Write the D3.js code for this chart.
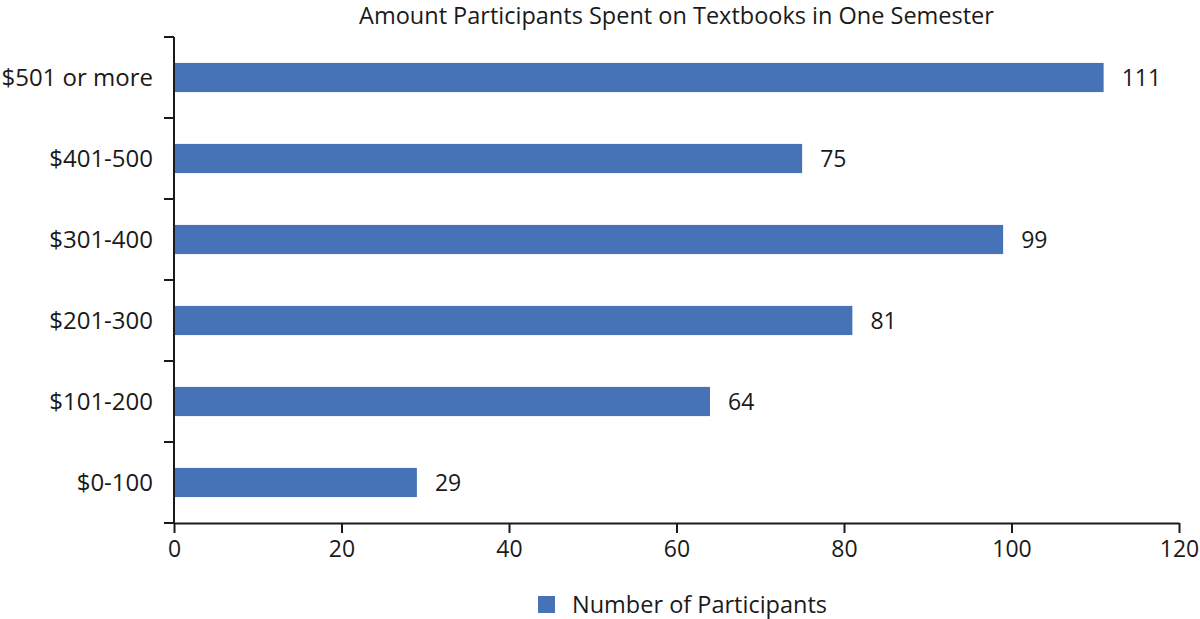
<!DOCTYPE html>
<html>
<head>
<meta charset="utf-8">
<script src="https://cdn.jsdelivr.net/npm/d3@7"></script>
<style>
  body { margin: 0; background: #fff; }
  svg { display: block; font-family: "Open Sans", sans-serif; }
</style>
</head>
<body>
<svg id="chart" width="1200" height="619"></svg>
<script>
// data (top to bottom)
const categories = ["$501 or more", "$401-500", "$301-400", "$201-300", "$101-200", "$0-100"];
const participants = [111, 75, 99, 81, 64, 29];
const xTicks = [0, 20, 40, 60, 80, 100, 120];
const title = "Amount Participants Spent on Textbooks in One Semester";
const seriesName = "Number of Participants";

const barColor = "#4672b8";
const ink = "#1a1a1a";

const svg = d3.select("#chart");
const plotLeft = 174, plotRight = 1179, plotTop = 37, plotBottom = 523;

const x = d3.scaleLinear().domain([0, 120]).range([plotLeft, plotRight]);
const y = d3.scaleBand().domain(categories).range([plotTop, plotBottom]).padding(0);
const barH = y.bandwidth() * 0.36;

// title
svg.append("text")
  .attr("x", (plotLeft + plotRight) / 2)
  .attr("y", 24)
  .attr("text-anchor", "middle")
  .attr("font-size", 23.5)
  .attr("fill", ink)
  .text(title);

// bars
svg.append("g")
  .selectAll("rect")
  .data(categories)
  .join("rect")
  .attr("x", x(0))
  .attr("y", d => y(d) + (y.bandwidth() - barH) / 2)
  .attr("width", (d, i) => x(participants[i]) - x(0))
  .attr("height", barH)
  .attr("fill", barColor);

// value labels
svg.append("g")
  .selectAll("text")
  .data(categories)
  .join("text")
  .attr("x", (d, i) => x(participants[i]) + 18)
  .attr("y", d => y(d) + y.bandwidth() / 2)
  .attr("dy", "0.35em")
  .attr("font-size", 23)
  .attr("fill", ink)
  .text((d, i) => participants[i]);

// x axis
const xAxis = svg.append("g")
  .attr("transform", `translate(0,${plotBottom})`)
  .call(d3.axisBottom(x).tickValues(xTicks).tickSize(10).tickPadding(8).tickSizeOuter(0));
xAxis.select(".domain").attr("stroke", ink).attr("stroke-width", 2);
xAxis.selectAll(".tick line").attr("stroke", ink).attr("stroke-width", 2);
xAxis.selectAll(".tick text").attr("font-size", 23).attr("fill", ink)
  .attr("font-family", "Open Sans, sans-serif");

// y axis: ticks on category boundaries, labels centred in each band
const bounds = categories.map(d => y(d)).concat([plotBottom]);
const yAxis = svg.append("g");
yAxis.append("line")
  .attr("x1", plotLeft).attr("x2", plotLeft)
  .attr("y1", plotTop).attr("y2", plotBottom)
  .attr("stroke", ink).attr("stroke-width", 2);
yAxis.selectAll("line.tk")
  .data(bounds)
  .join("line")
  .attr("class", "tk")
  .attr("x1", plotLeft - 10).attr("x2", plotLeft)
  .attr("y1", d => d).attr("y2", d => d)
  .attr("stroke", ink).attr("stroke-width", 2);
yAxis.selectAll("text")
  .data(categories)
  .join("text")
  .attr("x", plotLeft - 21)
  .attr("y", d => y(d) + y.bandwidth() / 2)
  .attr("dy", "0.35em")
  .attr("text-anchor", "end")
  .attr("font-size", 24)
  .attr("fill", ink)
  .text(d => d);

// legend
const legend = svg.append("g").attr("transform", "translate(538,596)");
legend.append("rect").attr("width", 17).attr("height", 17).attr("fill", barColor);
legend.append("text")
  .attr("x", 34)
  .attr("y", 8.5)
  .attr("dy", "0.35em")
  .attr("font-size", 23.5)
  .attr("fill", ink)
  .text(seriesName);
</script>
</body>
</html>
